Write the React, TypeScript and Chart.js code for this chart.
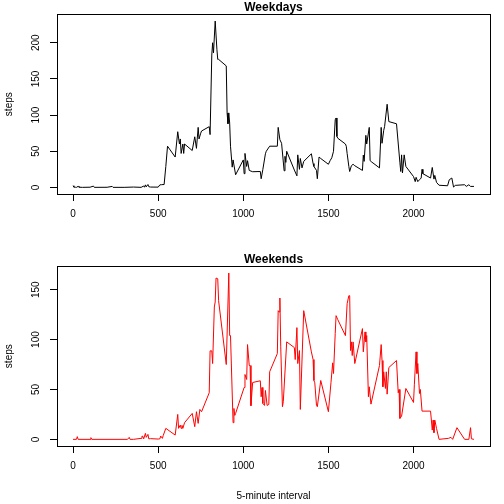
import React, { useEffect, useRef } from "react";
import { Chart, registerables } from "chart.js";

Chart.register(...registerables);

// 5-minute interval identifiers (HHMM) and mean steps
const weekdayIntervals = [
  0, 5, 10, 15, 20, 30, 35, 55, 100, 120, 125, 200, 230, 235, 300, 355, 400, 415, 420, 425, 430, 440, 445, 455,
  500, 510, 520, 535, 545, 555, 600, 615, 625, 630, 635, 645, 650, 655, 700, 715, 725, 735, 740, 750, 755,
  800, 805, 815, 820, 825, 835, 845, 850, 855, 900, 905, 910, 915, 920, 925, 935, 940, 955,
  1000, 1005, 1010, 1020, 1025, 1035, 1055, 1100, 1105, 1115, 1130, 1135, 1155, 1200, 1205, 1215, 1225, 1240,
  1245, 1250, 1255, 1300, 1315, 1320, 1330, 1335, 1345, 1355, 1400, 1410, 1415, 1430, 1435, 1445, 1455,
  1500, 1510, 1520, 1530, 1540, 1545, 1550, 1555, 1600, 1605, 1610, 1620, 1625, 1635, 1645, 1655,
  1700, 1705, 1710, 1720, 1725, 1740, 1745, 1755, 1800, 1810, 1815, 1825, 1830, 1845, 1855,
  1900, 1920, 1925, 1930, 1935, 1945, 1955, 2000, 2010, 2015, 2025, 2035, 2045, 2050, 2055,
  2100, 2110, 2120, 2125, 2135, 2150, 2155, 2200, 2210, 2225, 2235, 2245, 2255, 2300, 2310, 2325, 2335, 2355,
];
const weekdaySteps = [
  2.3, 0.4, 0.2, 0.2, 0.1, 1.5, 0.3, 0.1, 0.3, 1.8, 0.1, 0.2, 1.4, 0.1, 0.1, 0.5, 0.1, 2, 0.3, 3.5, 0.8, 4, 1, 0.5,
  0.4, 3.5, 3.8, 4, 29, 57, 42, 77, 60, 67, 47, 60, 47, 60, 51, 70, 54, 83, 67, 75, 78,
  84, 73, 183, 200, 186, 230, 191, 177, 177, 168, 103, 88, 103, 89, 57, 28, 38, 17.5,
  38, 19, 47, 29, 37, 23.5, 21.7, 22, 12, 25, 46.5, 50, 57, 57, 83, 66, 61, 23,
  43, 34.6, 50, 24, 16, 45, 25, 40, 27, 36, 46.5, 33, 29, 23.5, 12, 42, 40,
  32, 37, 41, 50, 93.5, 96, 70.5, 68, 60, 57, 47, 29, 22, 30, 32, 30,
  23.5, 44.7, 36, 72, 60, 83, 37, 35, 27, 83, 61, 79, 84, 115, 91,
  88, 34, 22, 45, 20, 45, 29, 15, 8, 14, 8, 10.6, 13, 25, 19,
  13, 27.6, 11.5, 16.6, 7, 3, 3, 2.3, 10.6, 13, 0.5, 2.8, 3, 3.7, 1.4, 3.7, 1.4, 1.4,
];

const weekendIntervals = [
  0, 20, 25, 30, 100, 105, 110, 320, 330, 335, 355, 400, 405, 410, 415, 425, 430, 440, 445, 455,
  500, 510, 515, 525, 530, 545, 600, 615, 620, 630, 635, 640, 645, 655, 700, 715, 725, 735, 745, 755,
  800, 805, 815, 820, 830, 835, 840, 850, 855, 900, 915, 920, 925, 940, 945, 950, 955,
  1005, 1010, 1020, 1025, 1035, 1040, 1045, 1055, 1100, 1105, 1110, 1115, 1125, 1130, 1140, 1150, 1155,
  1200, 1205, 1210, 1215, 1220, 1230, 1235, 1255, 1300, 1305, 1315, 1320, 1330, 1335, 1355,
  1400, 1410, 1415, 1420, 1430, 1435, 1455, 1500, 1515, 1525, 1530, 1540, 1545, 1555,
  1600, 1610, 1620, 1625, 1630, 1635, 1640, 1645, 1655, 1700, 1705, 1715, 1720, 1725, 1735, 1740, 1750,
  1800, 1810, 1815, 1820, 1825, 1835, 1840, 1845, 1855, 1900, 1910, 1915, 1920, 1930, 1955,
  2000, 2005, 2015, 2020, 2025, 2035, 2040, 2050, 2100, 2110, 2115, 2120, 2125, 2135, 2150,
  2205, 2220, 2230, 2255, 2300, 2325, 2335, 2340, 2355,
];
const weekendSteps = [
  0, 0, 2.7, 0, 0, 1.7, 0, 0, 2, 0, 0, 1, 3.3, 3, 0.5, 6, 2, 5, 0.5, 0.7,
  0.3, 0.5, 3.3, 1, 4, 11, 4.3, 25, 11, 14.3, 11, 14, 11, 16.7, 26, 12.7, 27.7, 16, 30, 27.7,
  46.7, 88.7, 88.7, 76, 132.7, 137.7, 161.7, 161, 139, 75, 166.7, 104, 104, 16.7, 31, 24, 26,
  52, 65, 60, 95, 74, 74, 33.7, 57, 58.7, 42.7, 52, 36, 34, 49, 34, 35, 67.7,
  86, 129, 127.7, 141.7, 92.7, 32.7, 37.7, 97.7, 92, 80, 112, 76, 89, 30, 129,
  87.7, 80, 59, 56.7, 34, 32.7, 59, 27.7, 56.7, 76.7, 66, 106, 124, 120,
  104, 136, 144, 144, 89, 97.7, 84, 97.7, 76, 111, 87.7, 107.7, 97.7, 104, 42.7, 52.7, 35.3,
  74, 95, 79, 52.7, 67.7, 51, 67.7, 45.3, 72, 79, 46.7, 50, 21, 23.3, 51,
  37, 55.3, 87.7, 66, 76, 46, 50, 28.3, 28.3, 9.3, 19.3, 6.7, 19.3, 11, 0,
  1, 2, 0, 11.7, 0, 0, 11.7, 0.5, 0,
];

const xTickValues = [0, 500, 1000, 1500, 2000];
const weekdayYTicks = [0, 50, 100, 150, 200];
const weekendYTicks = [0, 50, 100, 150];

const FONT = "'Liberation Sans', Arial, Helvetica, sans-serif";

const boxPlugin = {
  id: "plotBox",
  afterDraw(chart: any) {
    const { ctx, chartArea: a } = chart;
    ctx.save();
    ctx.strokeStyle = "#000";
    ctx.lineWidth = 1;
    ctx.strokeRect(Math.round(a.left) + 0.5, Math.round(a.top) + 0.5, Math.round(a.right - a.left), Math.round(a.bottom - a.top));
    ctx.restore();
  },
};

function makeConfig(title: string, xs: number[], ys: number[], color: string, yTicks: number[], showXTitle: boolean) {
  const xmin = Math.min(...xs);
  const xmax = Math.max(...xs);
  const ymin = Math.min(...ys);
  const ymax = Math.max(...ys);
  const xr = xmax - xmin;
  const yr = ymax - ymin;
  return {
    type: "line",
    data: {
      datasets: [
        {
          data: xs.map((x, i) => ({ x, y: ys[i] })),
          borderColor: color,
          borderWidth: 1,
          pointRadius: 0,
          tension: 0,
          fill: false,
        },
      ],
    },
    options: {
      animation: false,
      responsive: false,
      maintainAspectRatio: false,
      layout: { padding: { left: 0, right: 14, top: 0, bottom: 0 } },
      plugins: {
        legend: { display: false },
        tooltip: { enabled: false },
        title: {
          display: true,
          text: title,
          fullSize: false,
          color: "#000",
          font: { family: FONT, size: 12, weight: "bold", lineHeight: 1.2 },
          padding: { top: 0, bottom: 0 },
        },
      },
      scales: {
        x: {
          type: "linear",
          min: xmin - 0.04 * xr,
          max: xmax + 0.04 * xr,
          afterBuildTicks: (s: any) => {
            s.ticks = xTickValues.map((v) => ({ value: v }));
          },
          afterFit: (s: any) => {
            s.height = 58;
          },
          grid: { drawOnChartArea: false, drawTicks: true, tickLength: 7, color: "#000", lineWidth: 1 },
          border: { display: true, color: "#000", width: 1 },
          ticks: {
            color: "#000",
            font: { family: FONT, size: 10 },
            padding: 7,
            maxRotation: 0,
            minRotation: 0,
            autoSkip: false,
            callback: (v: any) => String(v),
          },
          title: {
            display: showXTitle,
            text: "5-minute interval",
            color: "#000",
            font: { family: FONT, size: 10, lineHeight: 1.2 },
            padding: { top: 0, bottom: 2 },
          },
        },
        y: {
          type: "linear",
          min: ymin - 0.04 * yr,
          max: ymax + 0.04 * yr,
          afterBuildTicks: (s: any) => {
            s.ticks = yTicks.map((v) => ({ value: v }));
          },
          afterFit: (s: any) => {
            s.width = 57;
          },
          grid: { drawOnChartArea: false, drawTicks: true, tickLength: 7, color: "#000", lineWidth: 1 },
          border: { display: true, color: "#000", width: 1 },
          ticks: {
            color: "#000",
            font: { family: FONT, size: 10 },
            padding: 5,
            minRotation: 90,
            maxRotation: 90,
            crossAlign: "center",
            autoSkip: false,
            callback: (v: any) => String(v),
          },
          title: {
            display: true,
            text: "steps",
            color: "#000",
            font: { family: FONT, size: 10, lineHeight: 1.2 },
            padding: { top: 3, bottom: 0 },
          },
        },
      },
    },
    plugins: [boxPlugin],
  } as any;
}

export default function App() {
  const topRef = useRef<HTMLCanvasElement>(null);
  const bottomRef = useRef<HTMLCanvasElement>(null);

  useEffect(() => {
    const c1 = new Chart(
      topRef.current as HTMLCanvasElement,
      makeConfig("Weekdays", weekdayIntervals, weekdaySteps, "#000000", weekdayYTicks, false)
    );
    const c2 = new Chart(
      bottomRef.current as HTMLCanvasElement,
      makeConfig("Weekends", weekendIntervals, weekendSteps, "#ff0000", weekendYTicks, true)
    );
    return () => {
      c1.destroy();
      c2.destroy();
    };
  }, []);

  return (
    <div style={{ position: "fixed", left: 0, top: 0, width: 504, height: 504, background: "#fff" }}>
      <canvas ref={topRef} width={504} height={252} style={{ display: "block", width: 504, height: 252 }} />
      <canvas ref={bottomRef} width={504} height={252} style={{ display: "block", width: 504, height: 252 }} />
    </div>
  );
}
